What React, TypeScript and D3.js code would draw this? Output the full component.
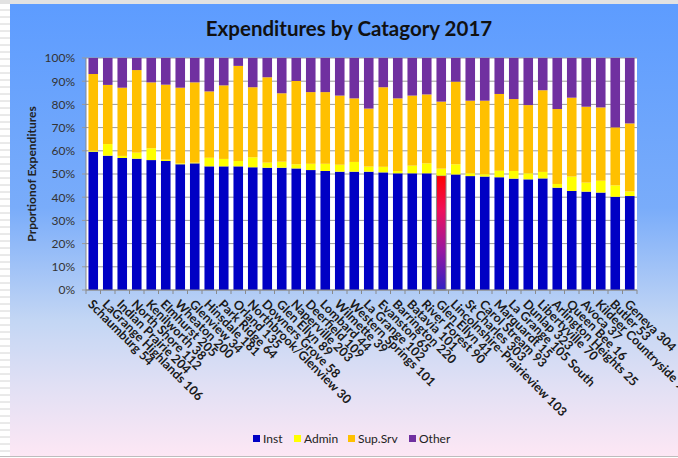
import React from "react";
import * as d3 from "d3";

const districts = [
  "Schaumburg 54", "LaGrange Highlands 106", "Indian Prairie 204", "North Shore 112",
  "Kenilworth 38", "Elmhurst 205", "Wheaton 200", "Glenview 34", "Hinsdale 181",
  "Park Ridge 64", "Orland 135", "Northbrook/Glenview 30", "Downers Grove 58",
  "Glen Ellyn 89", "Naperville 203", "Deerfield 109", "Lombard 44", "Wilmette 39",
  "Western Springs 101", "La Grange 102", "Evanston 65", "Barrington 220",
  "Batavia 101", "River Forest 90", "Glen Ellyn 41", "Lincolnshire-Prairieview 103",
  "St Charles 303", "Carol Stream 93", "Marquardt 15", "La Grange 105 South",
  "Dunlap 323", "Libertyville 70", "Arlington Heights 25", "Queen Bee 16",
  "Avoca 37", "Kildeer Countryside 96", "Butler 53", "Geneva 304",
];

const inst = [
  59.6, 57.9, 56.9, 56.6, 56.0, 55.6, 54.2, 54.6, 53.3, 53.3, 53.3, 52.9, 52.7,
  52.7, 52.4, 51.7, 51.3, 51.0, 51.0, 51.0, 50.7, 50.3, 50.3, 50.3, 49.3, 49.8,
  49.1, 48.9, 48.6, 48.0, 47.7, 48.1, 44.1, 42.7, 42.4, 42.0, 40.2, 40.5,
];
const admin = [
  0.5, 5.0, 0.9, 2.6, 5.1, 0.6, 0.4, 0.3, 3.7, 3.2, 2.3, 4.3, 2.2, 2.6, 1.8, 2.7,
  3.1, 3.0, 4.2, 2.2, 2.4, 1.0, 3.3, 4.3, 3.0, 4.4, 1.2, 1.0, 2.8, 3.3, 2.6, 2.8,
  1.6, 6.2, 3.9, 5.1, 4.9, 2.0,
];
const supSrv = [
  33.0, 25.5, 29.4, 35.6, 28.4, 32.3, 32.6, 34.6, 28.6, 31.7, 41.0, 30.2, 36.8,
  29.5, 35.9, 30.9, 30.9, 29.8, 27.4, 25.0, 34.3, 31.3, 30.2, 29.7, 28.9, 35.6,
  31.3, 31.7, 33.1, 31.0, 29.4, 35.2, 32.3, 34.0, 32.7, 31.6, 25.0, 29.3,
];
const other = inst.map((v, i) => +(100 - v - admin[i] - supSrv[i]).toFixed(1));

const seriesNames = ["Inst", "Admin", "Sup.Srv", "Other"];
const seriesColors = ["#0000c4", "#ffff00", "#ffc000", "#7030a0"];
const yTicks = [0, 10, 20, 30, 40, 50, 60, 70, 80, 90, 100];
const highlighted = "Glen Ellyn 41";

const W = 678;
const H = 458;
const plot = { left: 86, right: 637, top: 58, bottom: 290 };
const FONT = "Lato, 'Open Sans', sans-serif";

export default function App() {
  const rows = districts.map((d, i) => ({
    name: d,
    Inst: inst[i],
    Admin: admin[i],
    "Sup.Srv": supSrv[i],
    Other: other[i],
  }));
  const stack = d3.stack<any>().keys(seriesNames)(rows);

  const x = d3
    .scaleBand<string>()
    .domain(districts)
    .range([plot.left, plot.right])
    .paddingInner(0.34)
    .paddingOuter(0.17);
  const y = d3.scaleLinear().domain([0, 100]).range([plot.bottom, plot.top]);

  const sheetLines = d3.range(3, H, 7);
  const step = x.step();
  const tickXs = d3.range(districts.length + 1).map((i) => plot.left + i * step);

  const legendItems = [
    { x: 253, tx: 263 },
    { x: 294, tx: 304 },
    { x: 348, tx: 358 },
    { x: 409, tx: 419 },
  ];

  return (
    <svg
      width={W}
      height={H}
      style={{ position: "absolute", left: 0, top: 0, display: "block" }}
    >
      <defs>
        <linearGradient id="bg" x1="0" y1="0" x2="0" y2="1">
          <stop offset="0" stopColor="#5d9cff" />
          <stop offset="0.45" stopColor="#79acfa" />
          <stop offset="0.7" stopColor="#c3d6f4" />
          <stop offset="0.85" stopColor="#e2e0f4" />
          <stop offset="1" stopColor="#fde7f4" />
        </linearGradient>
        <linearGradient id="hl" x1="0" y1="0" x2="0" y2="1">
          <stop offset="0" stopColor="#ff0000" />
          <stop offset="0.3" stopColor="#f0105a" />
          <stop offset="0.65" stopColor="#9a18a0" />
          <stop offset="1" stopColor="#3020c4" />
        </linearGradient>
      </defs>

      <rect x={0} y={0} width={W} height={H} fill="#ffffff" />
      {sheetLines.map((ly) => (
        <line key={ly} x1={0} x2={10} y1={ly} y2={ly} stroke="#d4d4d4" strokeWidth={1} />
      ))}
      <rect x={0} y={0} width={W} height={4} fill="#e2e2e2" />
      <rect x={10} y={4} width={W - 10} height={452} fill="url(#bg)" />
      <line x1={0} x2={W} y1={456.5} y2={456.5} stroke="#bdbdbd" />

      <text
        x={349}
        y={36}
        textAnchor="middle"
        fontFamily={FONT}
        fontWeight={700}
        fontSize={20.5}
        fill="#111"
      >
        Expenditures by Catagory 2017
      </text>

      <rect
        x={plot.left}
        y={plot.top}
        width={plot.right - plot.left}
        height={plot.bottom - plot.top}
        fill="#ffffff"
      />
      {yTicks.map((t) => (
        <g key={t}>
          <line
            x1={plot.left - 4}
            x2={plot.right}
            y1={y(t)}
            y2={y(t)}
            stroke="#9a9a9a"
            strokeWidth={1}
          />
          <text
            x={75}
            y={y(t)}
            dy="0.36em"
            textAnchor="end"
            fontFamily={FONT}
            fontSize={12}
            fill="#333"
          >
            {t}%
          </text>
        </g>
      ))}

      {stack.map((s, si) => (
        <g key={seriesNames[si]} fill={seriesColors[si]}>
          {s.map((d: any) => {
            const isHl = d.data.name === highlighted && si === 0;
            return (
              <rect
                key={d.data.name}
                x={x(d.data.name)}
                y={y(d[1])}
                width={x.bandwidth()}
                height={Math.max(0, y(d[0]) - y(d[1]))}
                fill={isHl ? "url(#hl)" : seriesColors[si]}
                stroke={isHl ? "#8a8a8a" : "none"}
                strokeWidth={isHl ? 1 : 0}
              />
            );
          })}
        </g>
      ))}

      <line x1={plot.left} x2={plot.left} y1={plot.top} y2={plot.bottom} stroke="#8a8a8a" />
      <line x1={plot.left} x2={plot.right} y1={plot.bottom} y2={plot.bottom} stroke="#8a8a8a" />
      {tickXs.map((tx, i) => (
        <line
          key={i}
          x1={tx}
          x2={tx}
          y1={plot.bottom}
          y2={plot.bottom + 4}
          stroke="#8a8a8a"
        />
      ))}

      {districts.map((d) => {
        const cx = (x(d) as number) + x.bandwidth() / 2;
        return (
          <text
            key={d}
            transform={`translate(${cx - 3},${plot.bottom + 12}) rotate(45)`}
            dy="0.35em"
            fontFamily={FONT}
            fontWeight={700}
            fontSize={12.5}
            fill="#1a1a1a"
          >
            {d}
          </text>
        );
      })}

      <text
        transform={`translate(36,174) rotate(-90)`}
        textAnchor="middle"
        fontFamily={FONT}
        fontWeight={700}
        fontSize={12}
        fill="#222"
      >
        Prportionof Expenditures
      </text>

      {seriesNames.map((n, i) => (
        <g key={n}>
          <rect x={legendItems[i].x} y={435} width={7} height={7} fill={seriesColors[i]} />
          <text
            x={legendItems[i].tx}
            y={443}
            fontFamily={FONT}
            fontSize={12}
            fill="#222"
          >
            {n}
          </text>
        </g>
      ))}
    </svg>
  );
}
